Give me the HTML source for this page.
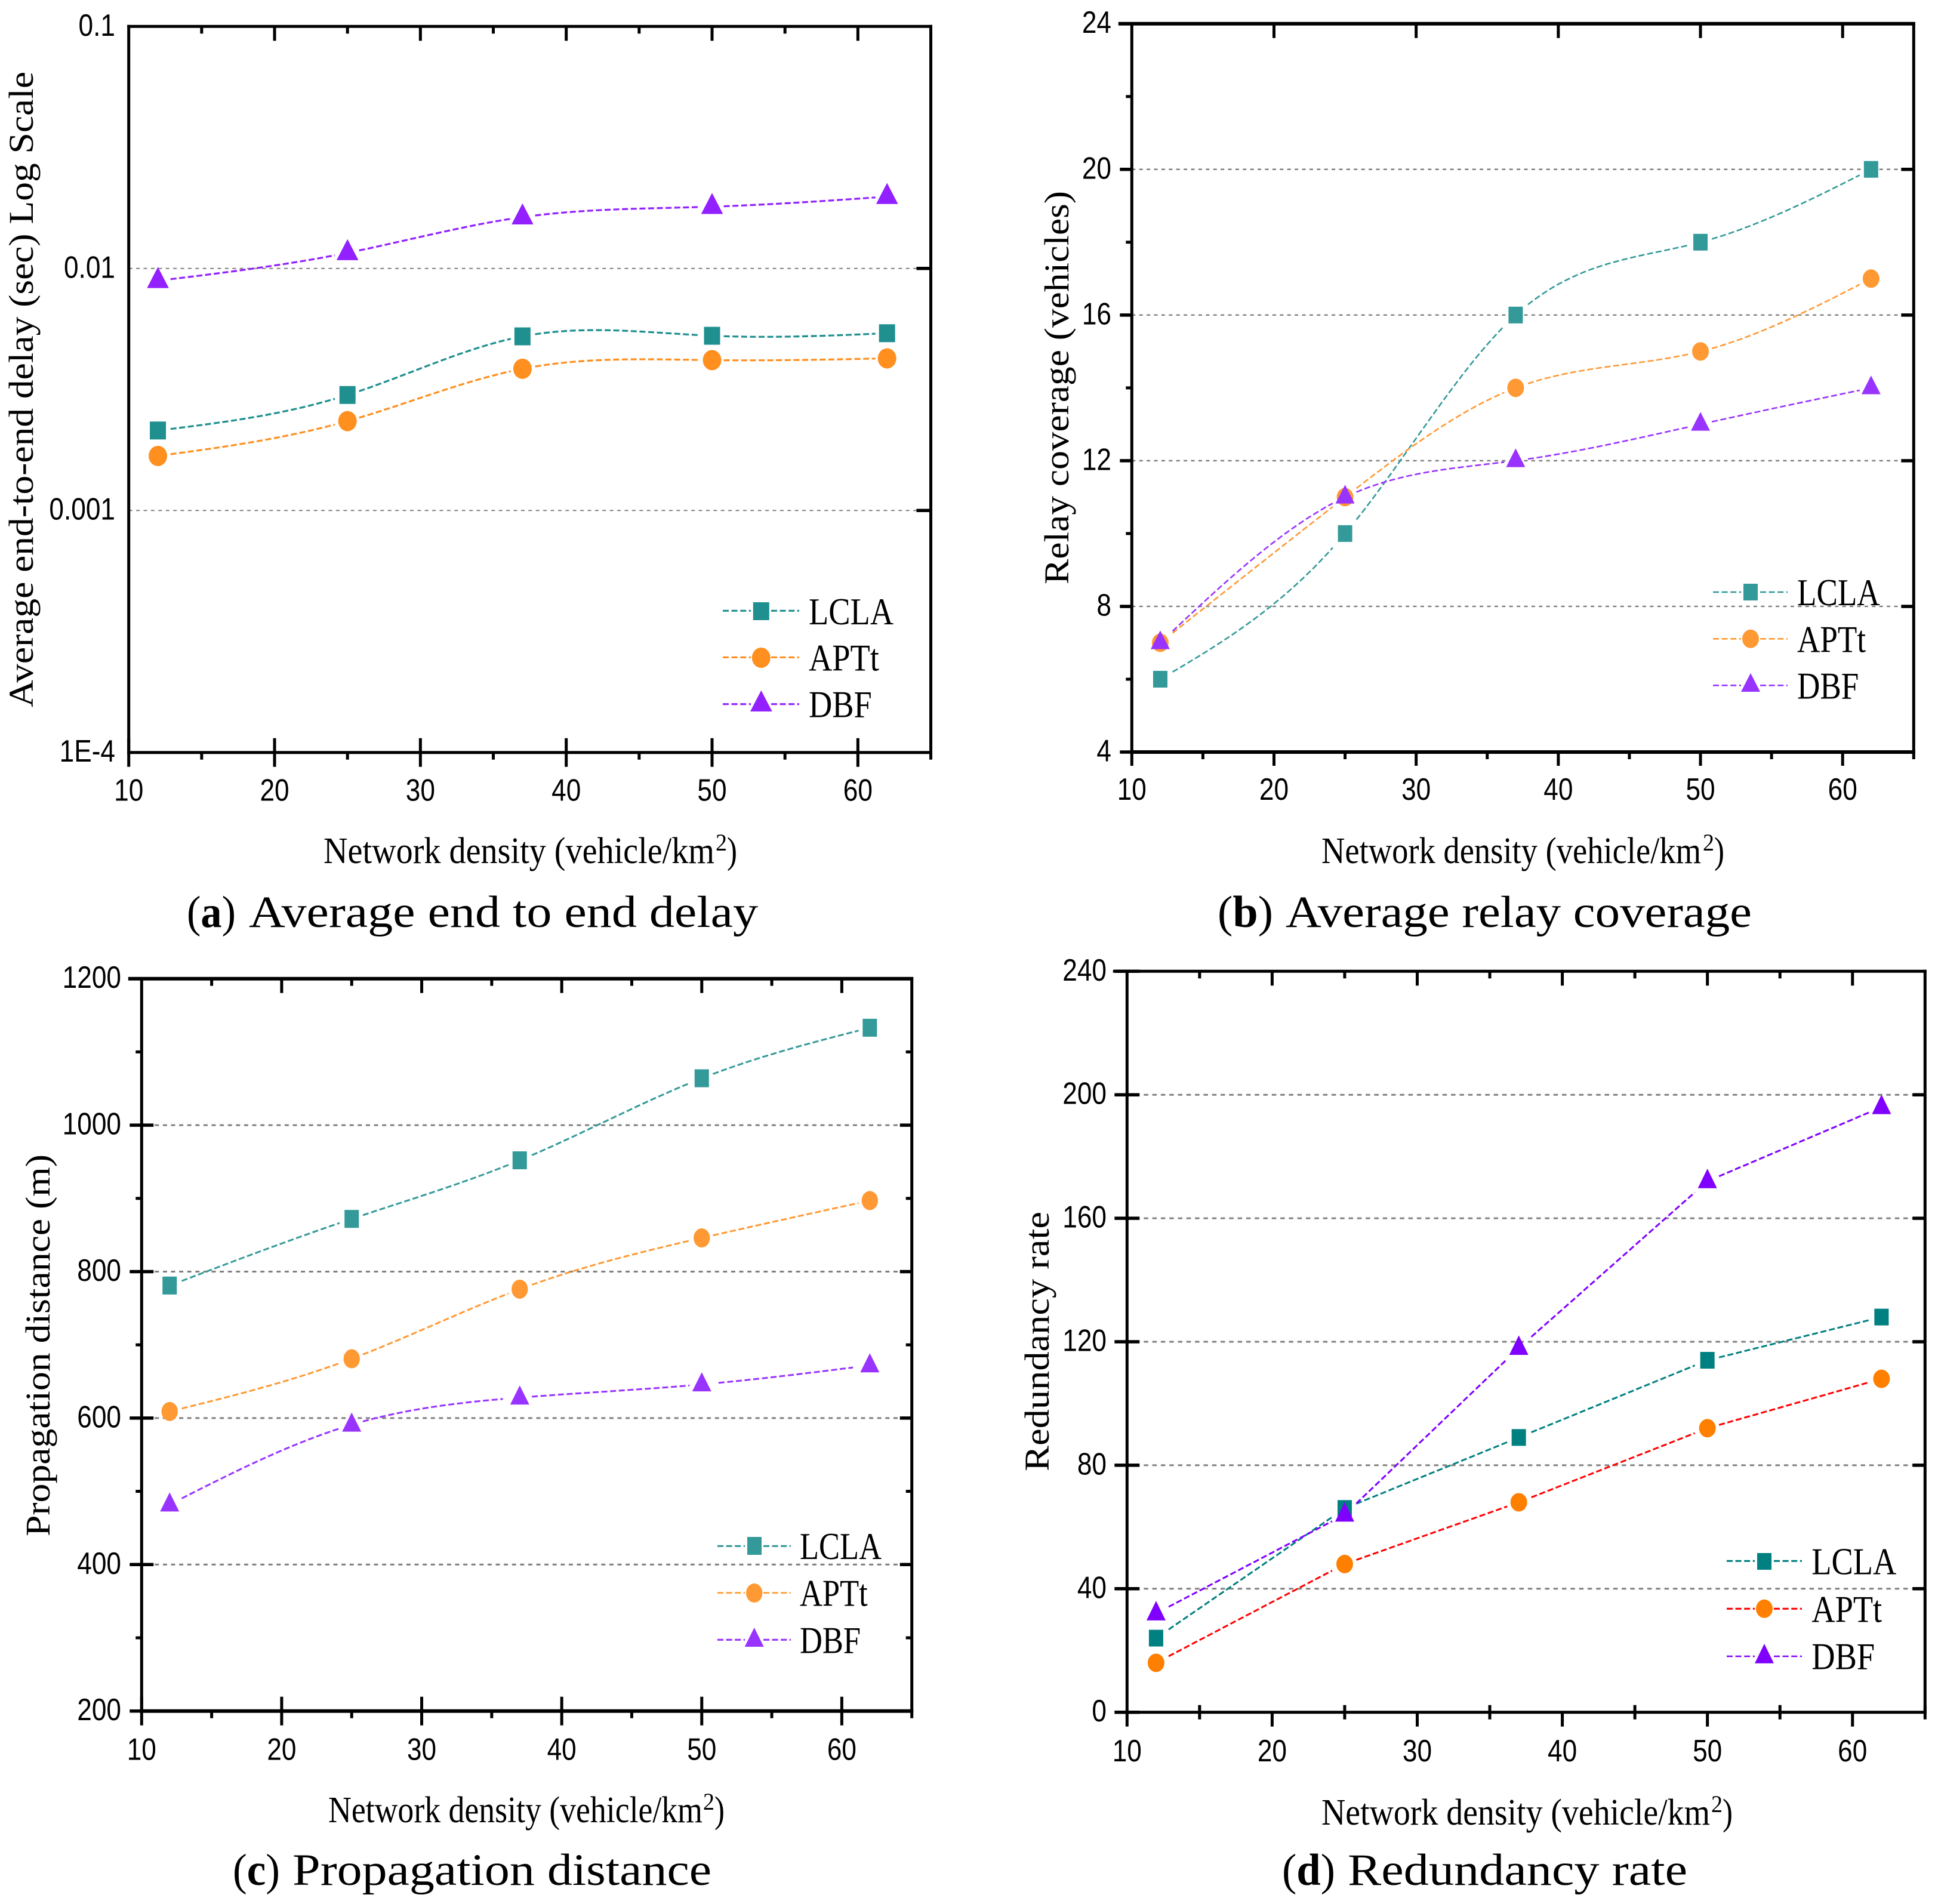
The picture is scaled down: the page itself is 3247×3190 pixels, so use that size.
<!DOCTYPE html>
<html lang="en">
<head>
<meta charset="utf-8">
<title>Network density performance charts</title>
<style>
html,body{margin:0;padding:0;background:#fff;}
svg{display:block;}
.tick{font-family:"Liberation Sans",Arial,sans-serif;font-size:52px;fill:#000;}
.leg{font-family:"Liberation Serif","Times New Roman",serif;font-size:64px;fill:#000;}
.title{font-family:"Liberation Serif","Times New Roman",serif;font-size:62px;fill:#000;}
.ytitle{font-family:"Liberation Serif","Times New Roman",serif;font-size:58px;fill:#000;}
.sup{font-family:"Liberation Serif","Times New Roman",serif;font-size:40px;fill:#000;}
.cap{font-family:"Liberation Serif","Times New Roman",serif;font-size:75px;fill:#000;}
.dash{fill:none;stroke-dasharray:10 4.6;stroke-width:3.2;}
</style>
</head>
<body>
<svg id="figure" xmlns="http://www.w3.org/2000/svg" width="3247" height="3190" viewBox="0 0 3247 3190">
<rect x="0" y="0" width="3247" height="3190" fill="#fff"/>

<!-- Panel a static text -->
<g>
<text class="ytitle" transform="translate(55,1185) rotate(-90)" textLength="1065" lengthAdjust="spacingAndGlyphs">Average end-to-end delay (sec) Log Scale</text>
<text class="title" x="542" y="1446" textLength="655" lengthAdjust="spacingAndGlyphs">Network density (vehicle/km</text>
<text class="sup" x="1199" y="1425" textLength="19" lengthAdjust="spacingAndGlyphs">2</text>
<text class="title" x="1218" y="1446" textLength="17" lengthAdjust="spacingAndGlyphs">)</text>
<text class="cap" x="313" y="1553" textLength="82" lengthAdjust="spacingAndGlyphs">(<tspan font-weight="bold">a</tspan>)</text>
<text class="cap" x="417" y="1553" textLength="853" lengthAdjust="spacingAndGlyphs">Average end to end delay</text>
</g>
<g>
<g>
<path class="dash" stroke="#1f8f8f" d="M1211 1023.3H1258M1292 1023.3H1339"/>
<rect fill="#1f8f8f" x="1261.8" y="1009" width="27" height="30"/>
<text class="leg" transform="translate(1355,1046) scale(.85,1)">LCLA</text>
</g>
<g>
<path class="dash" stroke="#ff8f1f" d="M1211 1101.3H1258M1292 1101.3H1339"/>
<ellipse fill="#ff8f1f" cx="1275.3" cy="1102" rx="15.5" ry="17"/>
<text class="leg" transform="translate(1355,1123.7) scale(.85,1)">APTt</text>
</g>
<g>
<path class="dash" stroke="#9320ff" d="M1211 1179.7H1258M1292 1179.7H1339"/>
<polygon fill="#9320ff" points="1275.3,1156.7 1257,1192 1293.7,1192"/>
<text class="leg" transform="translate(1355,1201.7) scale(.85,1)">DBF</text>
</g>
</g>

<!-- Panel b static text -->
<g>
<text class="ytitle" transform="translate(1790,979) rotate(-90)" textLength="659" lengthAdjust="spacingAndGlyphs">Relay coverage (vehicles)</text>
<text class="title" x="2214" y="1446" textLength="636" lengthAdjust="spacingAndGlyphs">Network density (vehicle/km</text>
<text class="sup" x="2853" y="1425" textLength="19" lengthAdjust="spacingAndGlyphs">2</text>
<text class="title" x="2872" y="1446" textLength="17" lengthAdjust="spacingAndGlyphs">)</text>
<text class="cap" x="2040" y="1553" textLength="93" lengthAdjust="spacingAndGlyphs">(<tspan font-weight="bold">b</tspan>)</text>
<text class="cap" x="2154" y="1553" textLength="781" lengthAdjust="spacingAndGlyphs">Average relay coverage</text>
</g>
<g>
<g>
<path class="dash" stroke="#339999" style="stroke-width:2.6" d="M2870 992H2917M2949 992H2995"/>
<rect fill="#339999" x="2921" y="978" width="24" height="28"/>
<text class="leg" transform="translate(3011,1014) scale(.83,1)">LCLA</text>
</g>
<g>
<path class="dash" stroke="#ff9933" style="stroke-width:2.6" d="M2870 1070.3H2917M2949 1070.3H2995"/>
<ellipse fill="#ff9933" cx="2933" cy="1070.3" rx="14" ry="15.5"/>
<text class="leg" transform="translate(3011,1092.3) scale(.83,1)">APTt</text>
</g>
<g>
<path class="dash" stroke="#9933ff" style="stroke-width:2.6" d="M2870 1148.3H2917M2949 1148.3H2995"/>
<polygon fill="#9933ff" points="2933,1127.7 2917,1159 2949,1159"/>
<text class="leg" transform="translate(3011,1170.3) scale(.83,1)">DBF</text>
</g>
</g>

<!-- Panel c static text -->
<g>
<text class="ytitle" transform="translate(83,2574) rotate(-90)" textLength="640" lengthAdjust="spacingAndGlyphs">Propagation distance (m)</text>
<text class="title" x="550" y="3053" textLength="627" lengthAdjust="spacingAndGlyphs">Network density (vehicle/km</text>
<text class="sup" x="1178" y="3032" textLength="19" lengthAdjust="spacingAndGlyphs">2</text>
<text class="title" x="1197" y="3053" textLength="17" lengthAdjust="spacingAndGlyphs">)</text>
<text class="cap" x="390" y="3158" textLength="79" lengthAdjust="spacingAndGlyphs">(<tspan font-weight="bold">c</tspan>)</text>
<text class="cap" x="490" y="3158" textLength="702" lengthAdjust="spacingAndGlyphs">Propagation distance</text>
</g>
<g>
<g>
<path class="dash" stroke="#339999" d="M1202 2590.3H1248M1279 2590.3H1325"/>
<rect fill="#339999" x="1252" y="2575" width="24" height="30"/>
<text class="leg" transform="translate(1340,2612) scale(.82,1)">LCLA</text>
</g>
<g>
<path class="dash" stroke="#ff9933" style="stroke-width:2.6" d="M1202 2668.7H1248M1279 2668.7H1325"/>
<ellipse fill="#ff9933" cx="1263.7" cy="2669" rx="13.7" ry="16"/>
<text class="leg" transform="translate(1340,2690.7) scale(.82,1)">APTt</text>
</g>
<g>
<path class="dash" stroke="#9933ff" d="M1202 2747.3H1248M1279 2747.3H1325"/>
<polygon fill="#9933ff" points="1263.7,2727 1247.7,2759 1279.7,2759"/>
<text class="leg" transform="translate(1340,2769.3) scale(.82,1)">DBF</text>
</g>
</g>

<!-- Panel d static text -->
<g>
<text class="ytitle" transform="translate(1757,2465) rotate(-90)" textLength="435" lengthAdjust="spacingAndGlyphs">Redundancy rate</text>
<text class="title" x="2214" y="3057" textLength="651" lengthAdjust="spacingAndGlyphs">Network density (vehicle/km</text>
<text class="sup" x="2867" y="3036" textLength="19" lengthAdjust="spacingAndGlyphs">2</text>
<text class="title" x="2886" y="3057" textLength="17" lengthAdjust="spacingAndGlyphs">)</text>
<text class="cap" x="2148" y="3158" textLength="89" lengthAdjust="spacingAndGlyphs">(<tspan font-weight="bold">d</tspan>)</text>
<text class="cap" x="2258" y="3158" textLength="569" lengthAdjust="spacingAndGlyphs">Redundancy rate</text>
</g>
<g>
<g>
<path class="dash" stroke="#008080" d="M2893 2615.3H2940M2972 2615.3H3019"/>
<rect fill="#008080" x="2944" y="2602" width="24" height="28"/>
<text class="leg" transform="translate(3035.3,2637.7) scale(.85,1)">LCLA</text>
</g>
<g>
<path class="dash" stroke="#ff0000" d="M2893 2695.3H2940M2972 2695.3H3019"/>
<ellipse fill="#ff8000" cx="2956" cy="2695.3" rx="14" ry="15.5"/>
<text class="leg" transform="translate(3035.3,2717.3) scale(.85,1)">APTt</text>
</g>
<g>
<path class="dash" stroke="#8000ff" style="stroke-width:2.6" d="M2893 2775H2940M2972 2775H3019"/>
<polygon fill="#8000ff" points="2956,2754 2940,2786.7 2972,2786.7"/>
<text class="leg" transform="translate(3035.3,2796.7) scale(.85,1)">DBF</text>
</g>
</g>
</svg>

<script>
// ---- data ----
var xCategories = [12, 25, 37, 50, 62];
var xTickLabels = [10, 20, 30, 40, 50, 60];
var xMinorTicks = [15, 25, 35, 45, 55, 65];

var delayTicks = [0.1, 0.01, 0.001, 0.0001];
var delayTickLabels = ["0.1", "0.01", "0.001", "1E-4"];
var delayLCLA = [0.00214, 0.0030, 0.00524, 0.00527, 0.0054];
var delayAPTt = [0.00168, 0.00234, 0.00385, 0.00418, 0.00425];
var delayDBF = [0.0089, 0.0116, 0.0163, 0.018, 0.0198];

var coverageTicks = [24, 20, 16, 12, 8, 4];
var coverageTickLabels = ["24", "20", "16", "12", "8", "4"];
var coverageMinor = [22, 18, 14, 10, 6];
var coverageLCLA = [6, 10, 16, 18, 20];
var coverageAPTt = [7, 11, 14, 15, 17];
var coverageDBF = [7, 11, 12, 13, 14];

var distanceTicks = [1200, 1000, 800, 600, 400, 200];
var distanceTickLabels = ["1200", "1000", "800", "600", "400", "200"];
var distanceMinor = [1100, 900, 700, 500, 300];
var distanceLCLA = [781, 872, 952, 1064, 1133];
var distanceAPTt = [609, 681, 776, 846, 897];
var distanceDBF = [482, 591, 628, 646, 672];

var redundancyTicks = [240, 200, 160, 120, 80, 40, 0];
var redundancyTickLabels = ["240", "200", "160", "120", "80", "40", "0"];
var redundancyLCLA = [24, 66, 89, 114, 128];
var redundancyAPTt = [16, 48, 68, 92, 108];
var redundancyDBF = [32, 64, 118, 172, 196];

// ---- layout ----
var NS = "http://www.w3.org/2000/svg";
var svg = document.getElementById("figure");

var panels = [
 {id:"a", x0:215.7, x1:1559.5, top:44.3, bot:1260.7, log:true, vmin:0.0001, vmax:0.1,
  ticks:delayTicks, labels:delayTickLabels, minorY:[], labelX:193, xLabelY:1341.5,
  leftOut:0, leftIn:0, rightIn:24, yMinorLen:0, rightMinor:false, xIn:24, xOut:24, topMinor:true,
  minorUp:0, gridW:2, gridD:"6 6.4", gridStart:0, axisExt:0, lineW:3.2, spline:true,
  mw:27, mh:30, cr:[15.5,17], tri:[18.3,23,12.3], topW:5,
  series:[["lcla",delayLCLA,"#1f8f8f","#1f8f8f","s"],["aptt",delayAPTt,"#ff8f1f","#ff8f1f","c"],["dbf",delayDBF,"#9320ff","#9320ff","t"]]},
 {id:"b", x0:1896.3, x1:3206.3, top:39.7, bot:1260, log:false, vmin:4, vmax:24,
  ticks:coverageTicks, labels:coverageTickLabels, minorY:coverageMinor, labelX:1862, xLabelY:1340,
  leftOut:20, leftIn:0, rightIn:21, yMinorLen:10, rightMinor:false, xIn:0, xOut:23, topMinor:false,
  minorUp:0, gridW:2.4, gridD:"6 6.4", gridStart:0, axisExt:20, lineW:2.6, spline:true,
  mw:24, mh:28, cr:[14,15.5], tri:[16,20.6,10.7], topW:6,
  series:[["lcla",coverageLCLA,"#339999","#339999","s"],["aptt",coverageAPTt,"#ff9933","#ff9933","c"],["dbf",coverageDBF,"#9933ff","#9933ff","t"]]},
 {id:"c", x0:237.3, x1:1527.7, top:1639.7, bot:2866.7, log:false, vmin:200, vmax:1200,
  ticks:distanceTicks, labels:distanceTickLabels, minorY:distanceMinor, labelX:203, xLabelY:2948.7,
  leftOut:20, leftIn:20, rightIn:20, yMinorLen:10, rightMinor:true, xIn:24, xOut:24, topMinor:true,
  minorUp:0, gridW:3, gridD:"7 6.6", gridStart:22, axisExt:20, lineW:3, spline:true,
  mw:24, mh:30, cr:[13.7,16], tri:[16,20.3,11.7], topW:6,
  series:[["lcla",distanceLCLA,"#339999","#339999","s"],["aptt",distanceAPTt,"#ff9933","#ff9933","c"],["dbf",distanceDBF,"#9933ff","#9933ff","t"]]},
 {id:"d", x0:1888.3, x1:3225.3, top:1627.3, bot:2868.7, log:false, vmin:0, vmax:240,
  ticks:redundancyTicks, labels:redundancyTickLabels, minorY:[], labelX:1854, xLabelY:2951,
  leftOut:21, leftIn:21, rightIn:21, yMinorLen:0, rightMinor:false, xIn:0, xOut:24, topMinor:true,
  minorUp:12, gridW:3, gridD:"7.5 6.8", gridStart:28, axisExt:21, lineW:3, spline:false,
  mw:24, mh:28, cr:[14,15.5], tri:[16,21,11.7], topW:5,
  series:[["lcla",redundancyLCLA,"#008080","#008080","s"],["aptt",redundancyAPTt,"#ff0000","#ff8000","c"],["dbf",redundancyDBF,"#8000ff","#8000ff","t"]]}
];

function make(tag, attrs, parent){
  var el = document.createElementNS(NS, tag);
  for (var k in attrs) el.setAttribute(k, attrs[k]);
  parent.appendChild(el);
  return el;
}
function xScale(p, v){ return p.x0 + (v - 10) / 55 * (p.x1 - p.x0); }
function yScale(p, v){
  if (p.log) {
    var t = (Math.log10(v) - Math.log10(p.vmin)) / (Math.log10(p.vmax) - Math.log10(p.vmin));
    return p.bot - t * (p.bot - p.top);
  }
  return p.bot - (v - p.vmin) / (p.vmax - p.vmin) * (p.bot - p.top);
}
function naturalSpline(xs, ys){
  var n = xs.length, m = new Array(n).fill(0), u = new Array(n).fill(0), i;
  for (i = 1; i < n - 1; i++) {
    var sig = (xs[i] - xs[i-1]) / (xs[i+1] - xs[i-1]);
    var q = sig * m[i-1] + 2;
    m[i] = (sig - 1) / q;
    var d = (ys[i+1] - ys[i]) / (xs[i+1] - xs[i]) - (ys[i] - ys[i-1]) / (xs[i] - xs[i-1]);
    u[i] = (6 * d / (xs[i+1] - xs[i-1]) - sig * u[i-1]) / q;
  }
  for (i = n - 2; i >= 0; i--) m[i] = m[i] * m[i+1] + u[i];
  var pts = [];
  for (i = 0; i < n - 1; i++) {
    var h = xs[i+1] - xs[i];
    for (var s = 0; s < 30; s++) {
      var t = s / 30, a = 1 - t;
      pts.push([xs[i] + t * h,
        a * ys[i] + t * ys[i+1] + ((a*a*a - a) * m[i] + (t*t*t - t) * m[i+1]) * h * h / 6]);
    }
  }
  pts.push([xs[n-1], ys[n-1]]);
  return pts;
}
function linePath(p, values){
  var xs = xCategories.map(function(v){ return xScale(p, v); });
  var ys = values.map(function(v){ return yScale(p, v); });
  var pts = [];
  if (p.spline) { pts = naturalSpline(xs, ys); }
  else {
    for (var i = 0; i < xs.length - 1; i++) {
      for (var s = 0; s < 30; s++) {
        pts.push([xs[i] + (xs[i+1] - xs[i]) * s / 30, ys[i] + (ys[i+1] - ys[i]) * s / 30]);
      }
    }
    pts.push([xs[xs.length-1], ys[ys.length-1]]);
  }
  var gap = 19, d = "", pen = false;
  pts.forEach(function(pt){
    var near = xs.some(function(mx, j){ return Math.hypot(pt[0] - mx, pt[1] - ys[j]) < gap; });
    if (near) { pen = false; return; }
    d += (pen ? "L" : "M") + pt[0].toFixed(1) + " " + pt[1].toFixed(1);
    pen = true;
  });
  return d;
}

panels.forEach(function(p){
  var g = make("g", {}, svg);
  
  

  // gridlines
  p.ticks.forEach(function(v){
    if (v === p.vmin || v === p.vmax) return;
    var y = yScale(p, v);
    var grid = make("line", {x1:p.x0 + p.gridStart, x2:p.x1 - p.rightIn, y1:y, y2:y, stroke:"#808080",
      "stroke-width":p.gridW, "stroke-dasharray":p.gridD}, g);
    
    
  });

  // x ticks
  xTickLabels.forEach(function(v, i){
    var x = xScale(p, v);
    var tb = make("line", {x1:x, x2:x, y1:p.bot - p.xIn, y2:p.bot + p.xOut, stroke:"#000", "stroke-width":5}, g);
    
    
    if (v > 10) {
      var tt = make("line", {x1:x, x2:x, y1:p.top, y2:p.top + 24, stroke:"#000", "stroke-width":5}, g);
      
      
    }
    var lab = make("text", {"class":"tick", "text-anchor":"middle",
      transform:"translate(" + x + "," + p.xLabelY + ") scale(.85,1)"}, g);
    lab.textContent = String(xTickLabels[i]);
    
    
  });
  xMinorTicks.forEach(function(v){
    var x = xScale(p, v);
    var mb = make("line", {x1:x, x2:x, y1:p.bot - p.minorUp, y2:p.bot + 12, stroke:"#000", "stroke-width":5}, g);
    
    
    if (p.topMinor && v < 65) {
      var mt = make("line", {x1:x, x2:x, y1:p.top, y2:p.top + 12, stroke:"#000", "stroke-width":5}, g);
      
      
    }
  });

  // y ticks
  p.ticks.forEach(function(v, i){
    var y = yScale(p, v);
    if (v !== p.vmax && v !== p.vmin || p.leftOut) {
      if (p.leftOut || p.leftIn) {
        var tl = make("line", {x1:p.x0 - p.leftOut, x2:p.x0 + p.leftIn, y1:y, y2:y, stroke:"#000", "stroke-width":5.5}, g);
        
        
      }
    }
    if (v !== p.vmax && v !== p.vmin) {
      var tr = make("line", {x1:p.x1 - p.rightIn, x2:p.x1, y1:y, y2:y, stroke:"#000", "stroke-width":5.5}, g);
      
      
    }
    var lab = make("text", {"class":"tick", "text-anchor":"end",
      transform:"translate(" + p.labelX + "," + (y + 15.5) + ") scale(.85,1)"}, g);
    lab.textContent = p.labels[i];
    
    
  });
  p.minorY.forEach(function(v){
    var y = yScale(p, v);
    var ml = make("line", {x1:p.x0 - p.yMinorLen, x2:p.x0, y1:y, y2:y, stroke:"#000", "stroke-width":5}, g);
    
    
    if (p.rightMinor) {
      var mr = make("line", {x1:p.x1 - p.yMinorLen, x2:p.x1, y1:y, y2:y, stroke:"#000", "stroke-width":5}, g);
      
      
    }
  });

  // axis frame
  var frameL = make("line", {x1:p.x0, x2:p.x0, y1:p.top - 2.5, y2:p.bot + 2.5, stroke:"#000", "stroke-width":5}, g);
  
  
  var frameR = make("line", {x1:p.x1, x2:p.x1, y1:p.top - 2.5, y2:p.bot + 2.5, stroke:"#000", "stroke-width":5}, g);
  
  
  var frameT = make("line", {x1:p.x0 - p.axisExt - 2.5, x2:p.x1 + 2.5, y1:p.top, y2:p.top, stroke:"#000", "stroke-width":p.topW}, g);
  
  
  var frameB = make("line", {x1:p.x0 - 2.5, x2:p.x1 + 2.5, y1:p.bot, y2:p.bot, stroke:"#000", "stroke-width":p.topW}, g);
  
  

  // series
  p.series.forEach(function(s){
    var key = s[0], values = s[1], lineColor = s[2], markColor = s[3], shape = s[4];
    var sg = make("g", {}, g);
    
    
    var ln = make("path", {d:linePath(p, values), fill:"none", stroke:lineColor,
      "stroke-width":p.lineW, "stroke-dasharray":"10 4.6"}, sg);
    
    
    values.forEach(function(v, i){
      var cx = xScale(p, xCategories[i]), cy = yScale(p, v), m;
      if (shape === "s") {
        m = make("rect", {x:cx - p.mw/2, y:cy - p.mh/2, width:p.mw, height:p.mh, fill:markColor}, sg);
      } else if (shape === "c") {
        m = make("ellipse", {cx:cx, cy:cy, rx:p.cr[0], ry:p.cr[1], fill:markColor}, sg);
      } else {
        var pts = cx + "," + (cy - p.tri[1]) + " " + (cx - p.tri[0]) + "," + (cy + p.tri[2]) + " " + (cx + p.tri[0]) + "," + (cy + p.tri[2]);
        m = make("polygon", {points:pts, fill:markColor}, sg);
      }
      
      
    });
  });
});
</script>
</body>
</html>
